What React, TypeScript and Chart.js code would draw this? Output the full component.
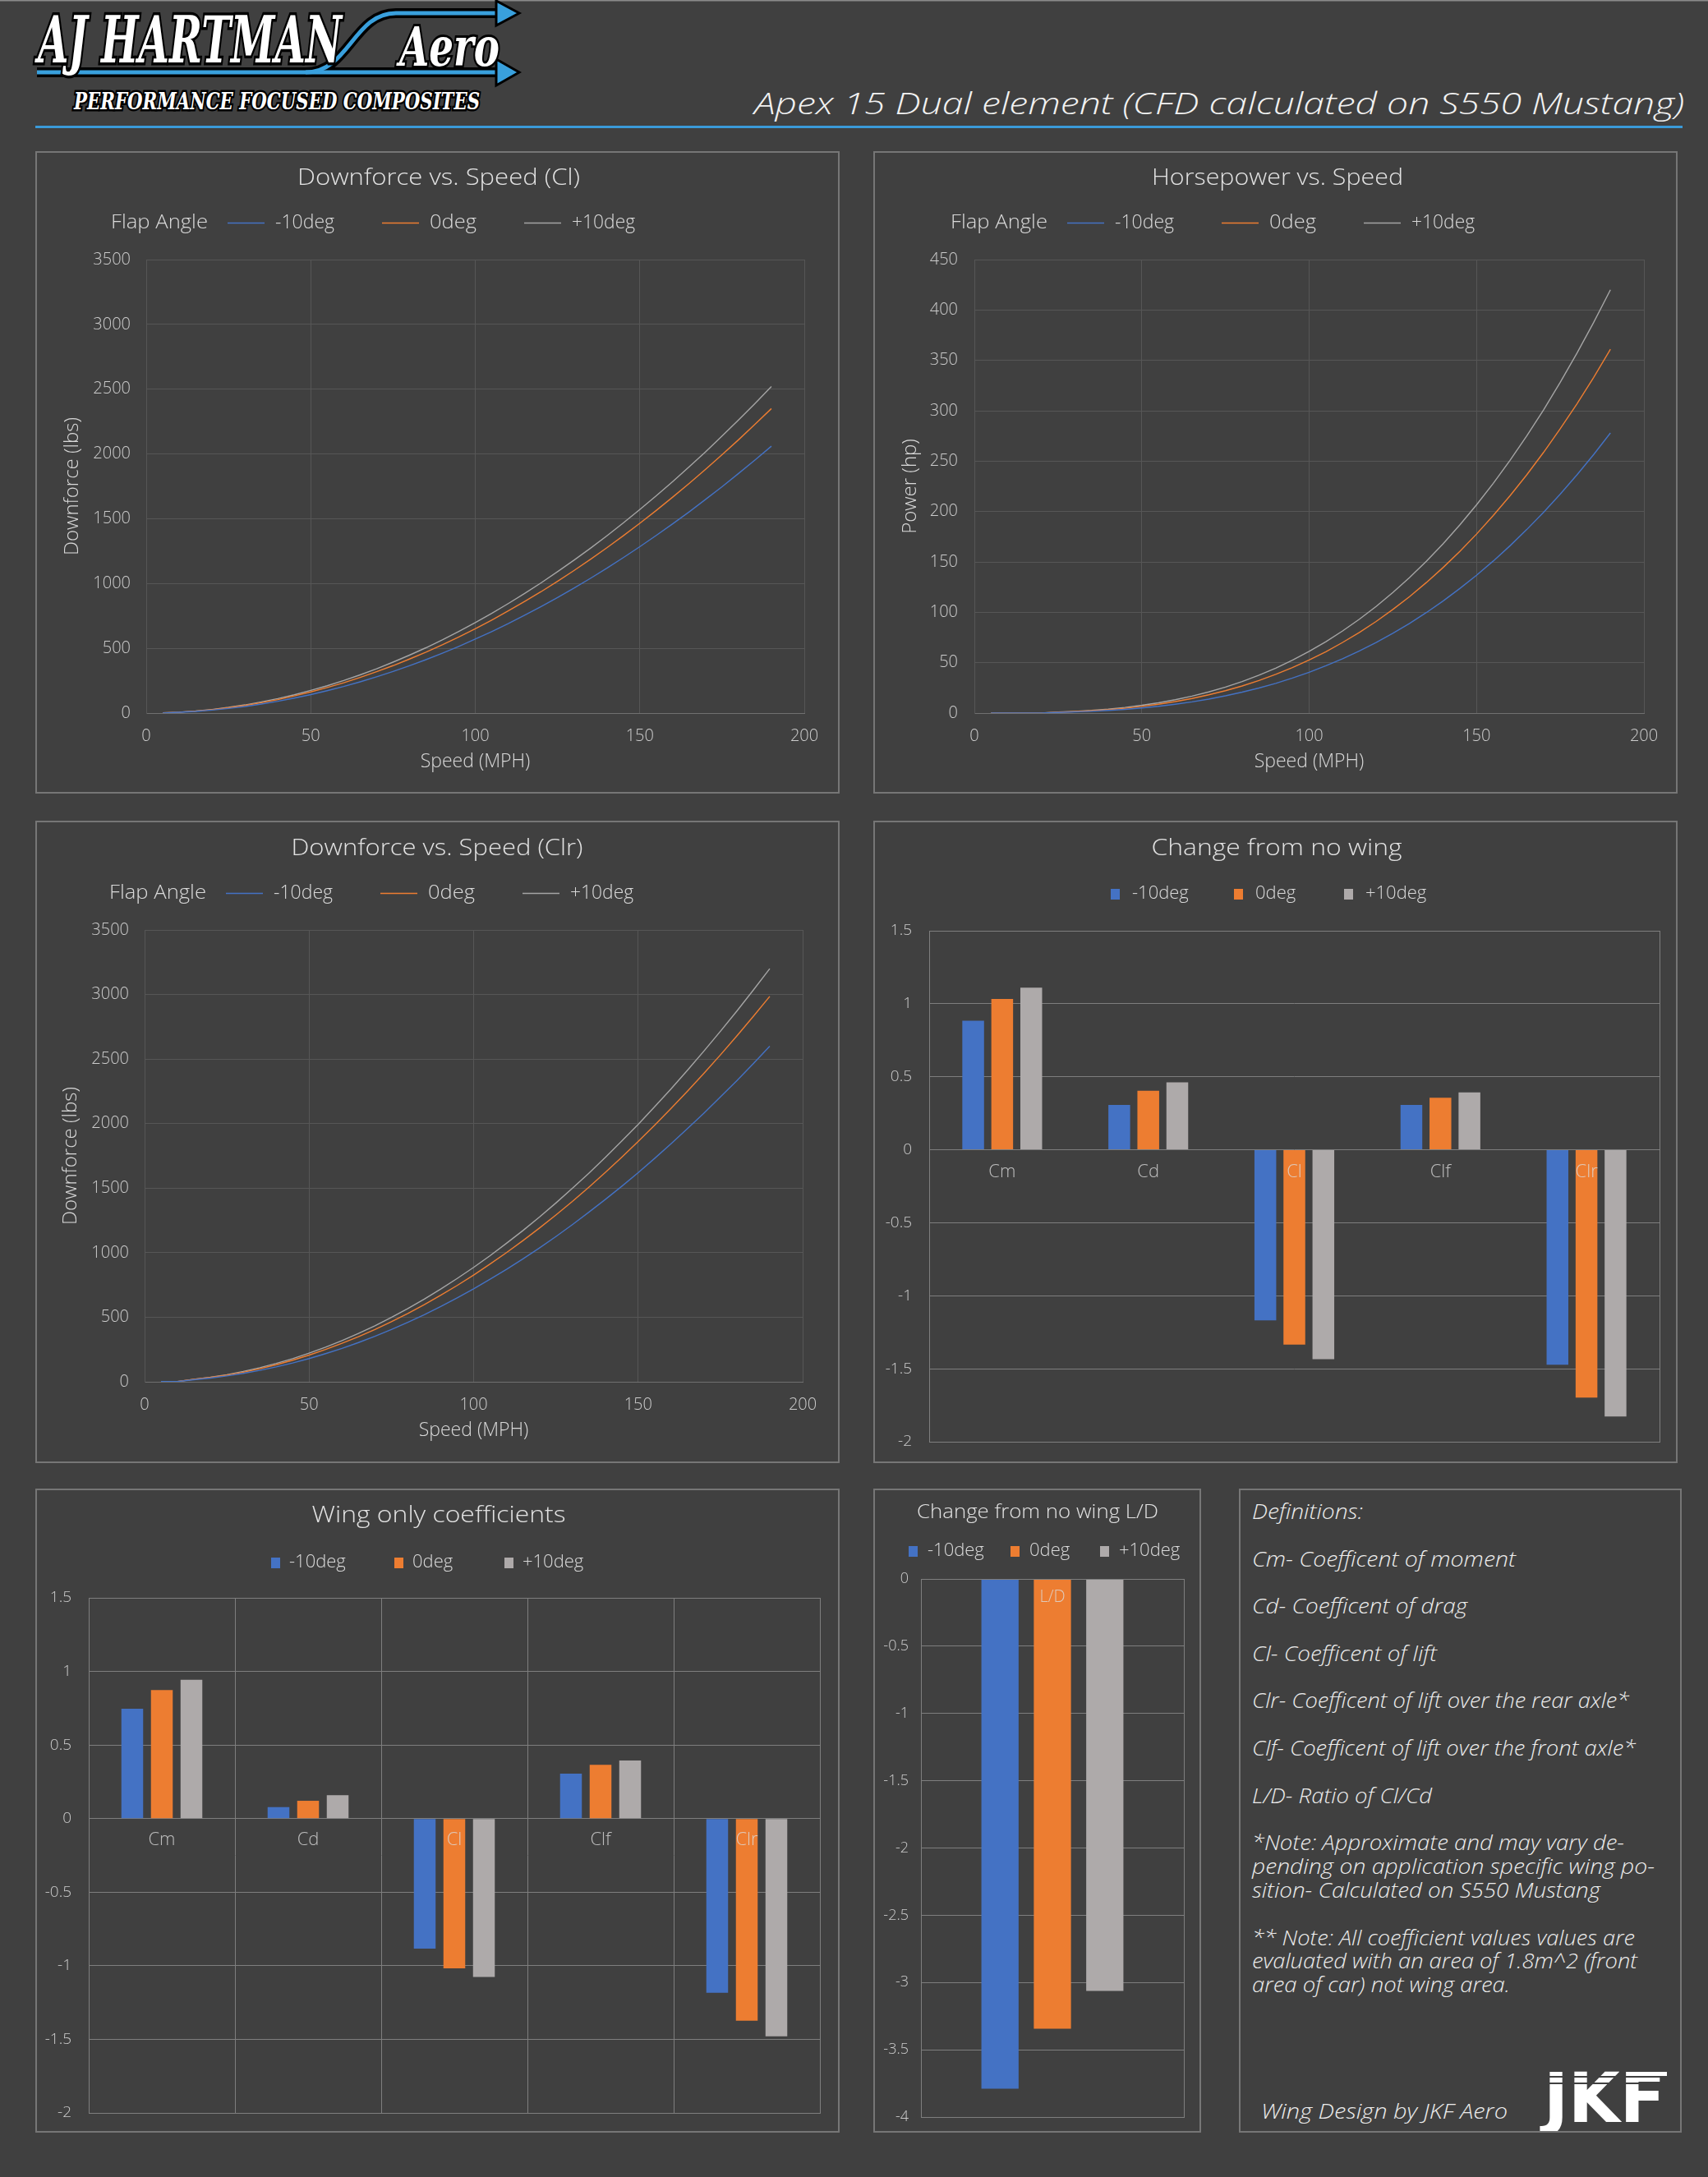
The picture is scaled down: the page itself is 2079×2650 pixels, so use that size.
import React, { useEffect, useRef } from "react";
import { Chart, registerables } from "chart.js";
Chart.register(...registerables);

// ---------------- DATA ----------------
const seriesLabels = ["-10deg", "0deg", "+10deg"];
const speeds = [5,10,15,20,25,30,35,40,45,50,55,60,65,70,75,80,85,90,95,100,105,110,115,120,125,130,135,140,145,150,155,160,165,170,175,180,185,190];

const dfClM10 = [1,6,13,23,36,51,70,91,116,143,173,205,241,280,321,365,412,462,515,571,629,690,755,822,892,964,1040,1118,1200,1284,1371,1461,1553,1649,1747,1849,1953,2060];
const dfCl0 = [2,7,15,26,41,59,80,104,132,163,197,234,275,319,366,417,470,527,588,651,718,788,861,937,1017,1100,1186,1276,1369,1465,1564,1667,1772,1881,1994,2109,2228,2350];
const dfClP10 = [2,7,16,28,44,63,86,112,141,175,211,251,295,342,393,447,504,565,630,698,770,845,923,1005,1091,1180,1272,1368,1468,1571,1677,1787,1900,2017,2138,2262,2389,2520];

const hpM10 = [0,0,0,0,0.6,1.1,1.7,2.6,3.7,5.1,6.7,8.8,11.1,13.9,17.1,20.8,24.9,29.5,34.7,40.5,46.9,53.9,61.6,70.0,79.2,89.0,99.7,111.2,123.6,136.8,150.9,166.0,182.1,199.1,217.2,236.4,256.6,278];
const hp0 = [0,0,0,0,0.8,1.4,2.3,3.4,4.8,6.6,8.8,11.4,14.5,18.1,22.2,26.9,32.3,38.4,45.1,52.6,60.9,70.1,80.0,90.9,102.8,115.6,129.5,144.4,160.4,177.6,196.0,215.6,236.4,258.6,282.1,306.9,333.2,361];
const hpP10 = [0,0,0,0,1.0,1.7,2.6,3.9,5.6,7.7,10.2,13.2,16.8,21.0,25.8,31.3,37.6,44.6,52.5,61.2,70.9,81.5,93.1,105.8,119.6,134.5,150.6,168.0,186.7,206.7,228.0,250.8,275.0,300.8,328.2,357.1,387.7,420];

const dfClrM10 = [2,2,16,29,45,65,88,115,146,180,218,259,304,353,405,461,520,583,650,720,794,871,952,1037,1125,1217,1313,1412,1514,1620,1730,1844,1961,2081,2206,2333,2465,2600];
const dfClr0 = [2,2,19,33,52,74,101,132,167,207,250,298,349,405,465,529,597,670,746,827,912,1001,1094,1191,1292,1397,1507,1621,1739,1861,1987,2117,2251,2390,2532,2679,2830,2985];
const dfClrP10 = [2,2,20,35,55,80,109,142,179,222,268,319,374,434,499,567,640,718,800,886,977,1073,1172,1276,1385,1498,1615,1737,1864,1994,2130,2269,2413,2562,2715,2872,3034,3200];

const coeffCategories = ["Cm", "Cd", "Cl", "Clf", "Clr"];
const changeM10 = [0.884, 0.307, -1.168, 0.307, -1.472];
const change0 = [1.033, 0.404, -1.334, 0.356, -1.698];
const changeP10 = [1.110, 0.462, -1.434, 0.393, -1.827];

const wingM10 = [0.747, 0.078, -0.883, 0.306, -1.183];
const wing0 = [0.874, 0.121, -1.018, 0.366, -1.373];
const wingP10 = [0.943, 0.159, -1.076, 0.395, -1.480];

const ldCategories = ["L/D"];
const ldM10 = [-3.789];
const ld0 = [-3.344];
const ldP10 = [-3.063];

const definitionLines = [
  "Definitions:",
  "Cm- Coefficent of moment",
  "Cd- Coefficent of drag",
  "Cl- Coefficent of lift",
  "Clr- Coefficent of lift over the rear axle*",
  "Clf- Coefficent of lift over the front axle*",
  "L/D- Ratio of Cl/Cd",
  "*Note: Approximate and may vary de-",
  "pending on application specific wing po-",
  "sition- Calculated on S550 Mustang",
  "** Note: All coefficient values values are",
  "evaluated with an area of 1.8m^2 (front",
  "area of car) not wing area.",
];

// ---------------- STYLE ----------------
const FONT = "'Open Sans', 'Noto Sans', sans-serif";
const BG = "#404040";
const TEXT = "#d9d9d9";
const TICK = "#cccccc";
const TITLE = "#e2e2e2";
const GRID_LINE = "#565656";
const GRID_BAR = "#7e7e7e";
const PANEL_BORDER = "#767676";
const LINE_COLORS = ["#4472c4", "#ed7d31", "#a5a5a5"];
const BAR_COLORS = ["#4472c4", "#ed7d31", "#aeaaaa"];
const BW = 2;

type Rect = { l: number; t: number; r: number; b: number };
type Box = { left: number; top: number; width: number; height: number };

// ---------------- PLUGIN ----------------
function fillScaled(ctx: CanvasRenderingContext2D, text: string, x: number, y: number, w?: number) {
  if (w) {
    const m = ctx.measureText(text).width;
    ctx.save();
    ctx.translate(x, y);
    ctx.scale(w / m, 1);
    ctx.fillText(text, 0, 0);
    ctx.restore();
  } else ctx.fillText(text, x, y);
}

const decorPlugin: any = {
  id: "decor",
  afterDraw(chart: any, _args: any, o: any) {
    const ctx: CanvasRenderingContext2D = chart.ctx;
    ctx.save();
    if (o.plotBorder) {
      const a = chart.chartArea;
      ctx.strokeStyle = o.plotBorder;
      ctx.lineWidth = 1;
      ctx.strokeRect(Math.round(a.left) + 0.5, Math.round(a.top) + 0.5, Math.round(a.right - a.left), Math.round(a.bottom - a.top));
    }
    if (o.catLabels) {
      const xs = chart.scales.x;
      const ys = chart.scales.y;
      const y0 = ys.getPixelForValue(0) + o.catLabels.dy;
      ctx.font = `300 ${o.catLabels.size}px ${FONT}`;
      ctx.fillStyle = o.catLabels.color;
      ctx.textAlign = "center";
      ctx.textBaseline = "middle";
      chart.data.labels.forEach((l: string, i: number) => ctx.fillText(l, xs.getPixelForValue(i), y0));
    }
    if (o.title) {
      ctx.font = `300 ${o.title.size}px ${FONT}`;
      ctx.fillStyle = TITLE;
      ctx.textAlign = "center";
      ctx.textBaseline = "middle";
      fillScaled(ctx, o.title.text, o.title.x, o.title.y, o.title.w);
    }
    const lg = o.legend;
    if (lg) {
      ctx.font = `300 ${lg.size}px ${FONT}`;
      ctx.textBaseline = "middle";
      ctx.textAlign = "left";
      if (lg.title) {
        ctx.fillStyle = TEXT;
        fillScaled(ctx, lg.title, lg.startX, lg.y, lg.titleW);
      }
      chart.data.datasets.forEach((d: any, i: number) => {
        let x = lg.startX + lg.xs[i];
        if (lg.type === "line") {
          ctx.strokeStyle = d.borderColor;
          ctx.lineWidth = 1.5;
          ctx.beginPath();
          ctx.moveTo(x, lg.y + 0.5);
          ctx.lineTo(x + lg.mark, lg.y + 0.5);
          ctx.stroke();
        } else {
          ctx.fillStyle = d.backgroundColor;
          ctx.fillRect(x, lg.y - 6, lg.mark, 13);
        }
        x += lg.mark + lg.markGap;
        ctx.fillStyle = TEXT;
        fillScaled(ctx, d.label, x, lg.y, lg.textWs ? lg.textWs[i] : undefined);
      });
    }
    ctx.restore();
  },
};

// ---------------- CHART PANEL ----------------
function ChartPanel({ box, build }: { box: Box; build: (cw: number, ch: number, cx: number, cy: number) => any }) {
  const ref = useRef<HTMLCanvasElement>(null);
  const cw = box.width - 2 * BW;
  const ch = box.height - 2 * BW;
  useEffect(() => {
    const chart = new Chart(ref.current as HTMLCanvasElement, build(cw, ch, box.left + BW, box.top + BW));
    return () => chart.destroy();
  }, []);
  return (
    <div style={{ position: "absolute", left: box.left, top: box.top, width: box.width, height: box.height, border: `${BW}px solid ${PANEL_BORDER}`, boxSizing: "border-box" }}>
      <canvas ref={ref} width={cw} height={ch} style={{ display: "block", width: cw, height: ch }} />
    </div>
  );
}

function fixY(width: number) {
  return (s: any) => {
    s.width = width;
    s.paddingTop = 0;
    s.paddingBottom = 0;
  };
}

function lineBuilder(p: {
  series: number[][]; yMax: number; yStep: number; yTitle: string; title: string; titleW: number;
  plot: Rect; wy: number; tickPad: number; titleX: number; titleY: number; legendY: number; legendX: number;
}) {
  return (cw: number, ch: number, cx: number, cy: number) => {
    const HX = 77;
    return {
      type: "line",
      data: {
        datasets: p.series.map((s, i) => ({
          label: seriesLabels[i],
          data: speeds.map((v, j) => ({ x: v, y: s[j] })),
          borderColor: LINE_COLORS[i],
          backgroundColor: LINE_COLORS[i],
          borderWidth: 1.4,
          pointRadius: 0,
          tension: 0,
          fill: false,
        })),
      },
      options: {
        responsive: false,
        animation: false,
        devicePixelRatio: 1,
        layout: { padding: { left: p.plot.l - cx - p.wy, right: cw - (p.plot.r - cx), top: p.plot.t - cy, bottom: ch - (p.plot.b - cy) - HX } },
        plugins: {
          legend: { display: false },
          title: { display: false },
          tooltip: { enabled: false },
          decor: {
            title: { text: p.title, x: p.titleX - cx, y: p.titleY - cy, size: 28, w: p.titleW },
            legend: {
              type: "line", title: "Flap Angle", titleW: 118, startX: p.legendX - cx, y: p.legendY - cy, size: 23,
              xs: [142, 330, 503], mark: 45, markGap: 13, textWs: [72, 57, 77],
            },
          },
        },
        scales: {
          x: {
            type: "linear", min: 0, max: 200,
            ticks: { stepSize: 50, color: TICK, font: { size: 20, family: FONT, weight: "300" }, padding: 16, callback: (v: any) => String(v) },
            grid: { color: GRID_LINE, drawTicks: false },
            border: { color: "#707070" },
            title: { display: true, text: "Speed (MPH)", color: TEXT, font: { size: 23, family: FONT, weight: "300" } },
            afterFit: (s: any) => { s.height = HX; },
          },
          y: {
            type: "linear", min: 0, max: p.yMax,
            ticks: { stepSize: p.yStep, color: TICK, font: { size: 20, family: FONT, weight: "300" }, padding: p.tickPad, callback: (v: any) => String(v) },
            grid: { color: GRID_LINE, drawTicks: false },
            border: { color: GRID_LINE },
            title: { display: true, text: p.yTitle, color: TEXT, font: { size: 24, family: FONT, weight: "300" } },
            afterFit: fixY(p.wy),
          },
        },
      },
      plugins: [decorPlugin],
    };
  };
}

function barBuilder(p: {
  labels: string[]; series: number[][]; yMin: number; yMax: number; plot: Rect; tickPad: number;
  title: string; titleX: number; titleY: number; titleSize: number; titleW: number;
  legendX: number; legendY: number; legendXs: number[]; legendMarkGap: number;
  vGrid: boolean; barPct: number; catPct: number; catDy: number; catSize: number; tickSize: number;
}) {
  return (cw: number, ch: number, cx: number, cy: number) => {
    const wy = p.plot.l - cx;
    return {
      type: "bar",
      data: {
        labels: p.labels,
        datasets: p.series.map((s, i) => ({
          label: seriesLabels[i],
          data: s,
          backgroundColor: BAR_COLORS[i],
          borderWidth: 0,
          barPercentage: p.barPct,
          categoryPercentage: p.catPct,
        })),
      },
      options: {
        responsive: false,
        animation: false,
        devicePixelRatio: 1,
        layout: { autoPadding: false, padding: { left: 0, right: cw - (p.plot.r - cx), top: p.plot.t - cy, bottom: ch - (p.plot.b - cy) } },
        plugins: {
          legend: { display: false },
          title: { display: false },
          tooltip: { enabled: false },
          decor: {
            plotBorder: GRID_BAR,
            catLabels: { dy: p.catDy, size: p.catSize, color: "rgba(220,220,220,0.8)" },
            title: { text: p.title, x: p.titleX - cx, y: p.titleY - cy, size: p.titleSize, w: p.titleW },
            legend: { type: "box", startX: p.legendX - cx, y: p.legendY - cy, size: 22, mark: 11, markGap: p.legendMarkGap, xs: p.legendXs },
          },
        },
        scales: {
          x: {
            ticks: { display: false },
            grid: { display: p.vGrid, color: GRID_BAR, drawTicks: false, offset: true },
            border: { display: false },
            afterFit: (s: any) => { s.height = 0; s.paddingLeft = 0; s.paddingRight = 0; },
          },
          y: {
            min: p.yMin, max: p.yMax,
            ticks: { stepSize: 0.5, color: TICK, font: { size: p.tickSize, family: FONT, weight: "300" }, padding: p.tickPad, callback: (v: any) => String(v) },
            grid: { color: GRID_BAR, drawTicks: false },
            border: { display: false },
            afterFit: fixY(wy),
          },
        },
      },
      plugins: [decorPlugin],
    };
  };
}

// ---------------- LAYOUT ----------------
const P1: Box = { left: 43, top: 184, width: 979, height: 782 };
const P2: Box = { left: 1063, top: 184, width: 979, height: 782 };
const P3: Box = { left: 43, top: 999, width: 979, height: 782 };
const P4: Box = { left: 1063, top: 999, width: 979, height: 782 };
const P5: Box = { left: 43, top: 1812, width: 979, height: 784 };
const P6: Box = { left: 1063, top: 1812, width: 399, height: 784 };
const P7: Box = { left: 1508, top: 1812, width: 539, height: 784 };

const defYs = [1840, 1898, 1955, 2013, 2070, 2128, 2186, 2243, 2272, 2301, 2359, 2387, 2416];
const defWs = [135, 321, 262, 225, 459, 467, 219, 453, 490, 424, 466, 469, 314];

function Header() {
  const blue = "#39a0dd";
  const arrow = "M372 88 C 425 88, 430 16, 482 16 H612";
  return (
    <svg width={2079} height={170} style={{ position: "absolute", left: 0, top: 0 }}>
      <rect x={0} y={0} width={2079} height={1.5} fill="#8a8a8a" />
      <g fill="none">
        <path d="M45 88 H612" stroke="#000" strokeWidth={12} />
        <path d={arrow} stroke="#000" strokeWidth={12} />
        <path d="M45 88 H612" stroke={blue} strokeWidth={5} />
        <path d={arrow} stroke={blue} strokeWidth={5} />
      </g>
      <polygon points="604,72 632,88 604,104" fill={blue} stroke="#000" strokeWidth={3} />
      <polygon points="604,1 632,16 604,31" fill={blue} stroke="#000" strokeWidth={3} />
      <text x={46} y={76} fontFamily="'DejaVu Serif', serif" fontWeight={700} fontStyle="italic" fontSize={78} textLength={370} lengthAdjust="spacingAndGlyphs" fill="#fff" stroke="#000" strokeWidth={7} paintOrder="stroke">AJ HARTMAN</text>
      <text x={486} y={80} fontFamily="'DejaVu Serif', serif" fontStyle="italic" fontWeight={700} fontSize={66} textLength={122} lengthAdjust="spacingAndGlyphs" fill="#fff" stroke="#000" strokeWidth={6} paintOrder="stroke">Aero</text>
      <text x={90} y={133} fontFamily="'DejaVu Serif', serif" fontWeight={700} fontStyle="italic" fontSize={27} textLength={494} lengthAdjust="spacingAndGlyphs" fill="#fff" stroke="#000" strokeWidth={5} paintOrder="stroke">PERFORMANCE FOCUSED COMPOSITES</text>
      <text x={918} y={139} fontFamily={FONT} fontStyle="italic" fontWeight={300} fontSize={37} textLength={1132} lengthAdjust="spacingAndGlyphs" fill="#f2f2f2">Apex 15 Dual element (CFD calculated on S550 Mustang)</text>
      <rect x={43} y={153} width={2005} height={3} fill="#3a9ad9" />
    </svg>
  );
}

function Definitions() {
  const ox = P7.left + BW, oy = P7.top + BW;
  return (
    <div style={{ position: "absolute", left: P7.left, top: P7.top, width: P7.width, height: P7.height, border: `${BW}px solid ${PANEL_BORDER}`, boxSizing: "border-box" }}>
      <svg width={P7.width - 2 * BW} height={P7.height - 2 * BW} style={{ position: "absolute", left: 0, top: 0 }}>
        {definitionLines.map((t, i) => (
          <text key={i} x={1524 - ox} y={defYs[i] - oy + 9} fontFamily={FONT} fontStyle="italic" fontWeight={300} fontSize={25} fill="#ececec" textLength={defWs[i]} lengthAdjust="spacingAndGlyphs">{t}</text>
        ))}
        <text x={1535 - ox} y={2579 - oy} fontFamily={FONT} fontStyle="italic" fontWeight={300} fontSize={25} fill="#ececec" textLength={300} lengthAdjust="spacingAndGlyphs">Wing Design by JKF Aero</text>
        <text x={1879 - ox} y={2583 - oy} fontFamily="'DejaVu Sans', sans-serif" fontWeight={900} fontSize={84} fill="#ffffff" textLength={148} lengthAdjust="spacingAndGlyphs">JKF</text>
        <rect x={1995 - ox} y={2522 - oy} width={34} height={5} fill="#ffffff" />
        <rect x={1878 - ox} y={2527 - oy} width={152} height={2} fill={BG} />
        <rect x={1878 - ox} y={2535 - oy} width={152} height={2} fill={BG} />
      </svg>
    </div>
  );
}

export default function App() {
  return (
    <div style={{ position: "absolute", left: 0, top: 0, width: 2079, height: 2650, background: BG, overflow: "hidden", fontFamily: FONT }}>
      <Header />
      <ChartPanel box={P1} build={lineBuilder({
        series: [dfClM10, dfCl0, dfClP10], yMax: 3500, yStep: 500, yTitle: "Downforce (lbs)",
        title: "Downforce vs. Speed (Cl)", titleW: 344, plot: { l: 178, r: 979, t: 316, b: 868 }, wy: 108, tickPad: 19,
        titleX: 534, titleY: 217, legendY: 271, legendX: 135,
      })} />
      <ChartPanel box={P2} build={lineBuilder({
        series: [hpM10, hp0, hpP10], yMax: 450, yStep: 50, yTitle: "Power (hp)",
        title: "Horsepower vs. Speed", titleW: 306, plot: { l: 1186, r: 2001, t: 316, b: 868 }, wy: 96, tickPad: 20,
        titleX: 1555, titleY: 217, legendY: 271, legendX: 1157,
      })} />
      <ChartPanel box={P3} build={lineBuilder({
        series: [dfClrM10, dfClr0, dfClrP10], yMax: 3500, yStep: 500, yTitle: "Downforce (lbs)",
        title: "Downforce vs. Speed (Clr)", titleW: 355, plot: { l: 176, r: 977, t: 1132, b: 1682 }, wy: 108, tickPad: 19,
        titleX: 532, titleY: 1033, legendY: 1087, legendX: 133,
      })} />
      <ChartPanel box={P4} build={barBuilder({
        labels: coeffCategories, series: [changeM10, change0, changeP10], yMin: -2, yMax: 1.5,
        plot: { l: 1131, r: 2020, t: 1133, b: 1755 }, tickPad: 21,
        title: "Change from no wing", titleX: 1554, titleY: 1033, titleSize: 28, titleW: 305,
        legendX: 1352, legendY: 1088, legendXs: [0, 150, 284], legendMarkGap: 15,
        vGrid: false, barPct: 0.75, catPct: 0.596, catDy: 27, catSize: 22, tickSize: 19,
      })} />
      <ChartPanel box={P5} build={barBuilder({
        labels: coeffCategories, series: [wingM10, wing0, wingP10], yMin: -2, yMax: 1.5,
        plot: { l: 108, r: 998, t: 1945, b: 2572 }, tickPad: 21,
        title: "Wing only coefficients", titleX: 534, titleY: 1845, titleSize: 28, titleW: 309,
        legendX: 330, legendY: 1902, legendXs: [0, 150, 284], legendMarkGap: 11,
        vGrid: true, barPct: 0.736, catPct: 0.607, catDy: 26, catSize: 22, tickSize: 19,
      })} />
      <ChartPanel box={P6} build={barBuilder({
        labels: ldCategories, series: [ldM10, ld0, ldP10], yMin: -4, yMax: 0,
        plot: { l: 1121, r: 1441, t: 1922, b: 2577 }, tickPad: 15,
        title: "Change from no wing L/D", titleX: 1263, titleY: 1841, titleSize: 24, titleW: 294,
        legendX: 1106, legendY: 1888, legendXs: [0, 124, 233], legendMarkGap: 12,
        vGrid: false, barPct: 0.71, catPct: 0.598, catDy: 22, catSize: 20, tickSize: 18,
      })} />
      <Definitions />
    </div>
  );
}
